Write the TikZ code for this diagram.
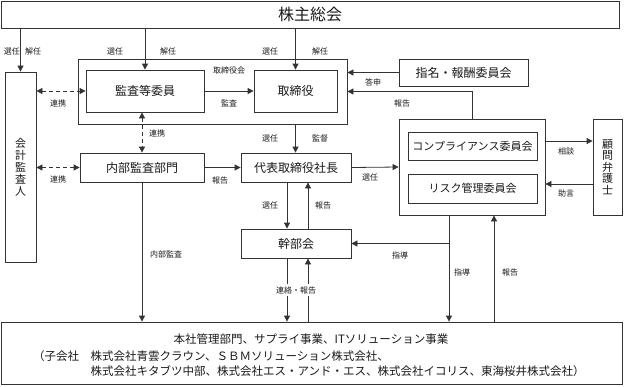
\documentclass[tikz,border=0pt]{standalone}
\usepackage{fontspec}
\setmainfont{Noto Sans CJK JP}
\usetikzlibrary{arrows.meta,calc}
\definecolor{ln}{HTML}{333333}
\definecolor{tx}{HTML}{1A1A1A}
\tikzset{
  box/.style={draw=ln, line width=0.8pt, fill=white, inner sep=0pt, text=tx, font=\fontsize{12pt}{14pt}\selectfont},
  arr/.style={draw=ln, line width=0.8pt, -{Triangle[length=6pt,width=6pt]}},
  plain/.style={draw=ln, line width=0.8pt},
  dash2/.style={draw=ln, line width=0.8pt, dash pattern=on 4pt off 3pt, {Triangle[length=6pt,width=6pt]}-{Triangle[length=6pt,width=6pt]}},
  lbl/.style={text=tx, inner sep=1pt, font=\fontsize{8pt}{9pt}\selectfont},
}
\begin{document}
\begin{tikzpicture}[x=1pt,y=-1pt]
\useasboundingbox (0,0) rectangle (624,386);
% boxes
\node[box, minimum width=618pt, minimum height=27pt, font=\fontsize{16pt}{18pt}\selectfont] (kabu) at (310,14.5) {株主総会};
\node[box, minimum width=269pt, minimum height=65pt] (bod) at (212.5,91.5) {};
\node[lbl] (bodlbl) at (229,70) {取締役会};
\node[box, minimum width=118pt, minimum height=42pt] (kansa) at (145,91) {監査等委員};
\node[box, minimum width=83pt, minimum height=42pt] (tori) at (295.5,91) {取締役};
\node[box, minimum width=31pt, minimum height=190pt, align=center, font=\fontsize{11pt}{12pt}\selectfont] (kaikei) at (20.5,167) {会\\計\\監\\査\\人};
\node[box, minimum width=129pt, minimum height=27pt] (shimei) at (463.5,72.5) {指名・報酬委員会};
\node[box, minimum width=146pt, minimum height=96pt] (comp) at (472,167) {};
\node[box, minimum width=129pt, minimum height=28pt, font=\fontsize{11pt}{13pt}\selectfont] (compl) at (472.5,146) {コンプライアンス委員会};
\node[box, minimum width=129pt, minimum height=29pt, font=\fontsize{11pt}{13pt}\selectfont] (risk) at (472.5,188.5) {リスク管理委員会};
\node[box, minimum width=29pt, minimum height=96pt, align=center, font=\fontsize{11pt}{11.5pt}\selectfont] (komon) at (607.5,167) {顧\\問\\弁\\護\\士};
\node[box, minimum width=124pt, minimum height=29pt] (naibu) at (142,167.5) {内部監査部門};
\node[box, minimum width=110pt, minimum height=29pt] (daihyo) at (296,167.5) {代表取締役社長};
\node[box, minimum width=110pt, minimum height=29pt] (kanbu) at (296,243.5) {幹部会};
\node[box, minimum width=621pt, minimum height=62pt] (hon) at (311.5,353) {};
\node[text=tx, inner sep=0pt, font=\fontsize{11.5pt}{13pt}\selectfont] (hon1) at (311,339) {本社管理部門、サプライ事業、ITソリューション事業};
\node[text=tx, inner sep=0pt, anchor=west, font=\fontsize{11.5pt}{13pt}\selectfont] (hon2) at (33,356) {（子会社　株式会社青雲クラウン、ＳＢＭソリューション株式会社、};
\node[text=tx, inner sep=0pt, anchor=west, font=\fontsize{11.5pt}{13pt}\selectfont] (hon3) at (90.5,371) {株式会社キタブツ中部、株式会社エス・アンド・エス、株式会社イコリス、東海桜井株式会社）};
% connectors from shareholders
\draw[arr] (kabu.south -| kaikei.north) -- (kaikei.north);
\draw[arr] (kabu.south -| kansa.north) -- (kansa.north);
\draw[arr] (kabu.south -| tori.north) -- (tori.north);
\node[lbl] at (12,51) {選任};
\node[lbl] at (33,51) {解任};
\node[lbl] at (115,51) {選任};
\node[lbl] at (168,51) {解任};
\node[lbl] at (270,51) {選任};
\node[lbl] at (320,51) {解任};
% board
\draw[arr] (kansa.east) -- (tori.west);
\node[lbl] at (229,103) {監査};
\draw[dash2] (kansa.west -| kaikei.east) -- (kansa.west);
\node[lbl] at (58,103) {連携};
\draw[dash2] (naibu.north |- kansa.south) -- (naibu.north);
\node[lbl] at (157,133) {連携};
\draw[dash2] (naibu.west -| kaikei.east) -- (naibu.west);
\node[lbl] at (58,179) {連携};
\draw[arr] (shimei.west) -- (shimei.west -| bod.east);
\node[lbl] at (373,82) {答申};
\draw[arr] (comp.north) |- (bod.east);
\node[lbl] at (402,103) {報告};
\draw[arr] (bod.south -| tori.south) -- (tori.south |- daihyo.north);
\node[lbl] at (270,138) {選任};
\node[lbl] at (320,138) {監督};
\draw[arr] (naibu.east) -- (daihyo.west);
\node[lbl] at (220,180) {報告};
\draw[arr] (daihyo.east) -- (comp.west);
\node[lbl] at (370,177) {選任};
\draw[arr] ([yshift=26pt]comp.east) -- ([yshift=26pt]comp.east -| komon.west);
\node[lbl] at (566,151) {相談};
\draw[arr] ([yshift=-17pt]comp.east -| komon.west) -- ([yshift=-17pt]comp.east);
\node[lbl] at (566,193) {助言};
% executive
\draw[arr] ([xshift=-9pt]daihyo.south) -- ([xshift=-9pt]kanbu.north);
\node[lbl] at (270,205) {選任};
\draw[arr] ([xshift=12pt]kanbu.north) -- ([xshift=12pt]daihyo.south);
\node[lbl] at (323,205) {報告};
\draw[arr] ([xshift=-9pt]kanbu.south) -- ([xshift=-9pt]kanbu.south |- hon.north);
\draw[arr] ([xshift=12pt]kanbu.south |- hon.north) -- ([xshift=12pt]kanbu.south);
\node[lbl, fill=white, inner sep=2pt] at (296,290) {連絡・報告};
% compliance to bottom
\coordinate (cdown) at ([xshift=-23pt]comp.south);
\coordinate (cbr) at (cdown |- kanbu.east);
\draw[arr] (cdown) -- (cdown |- hon.north);
\draw[arr] (cbr) -- (kanbu.east);
\node[lbl] at (400,255) {指導};
\node[lbl] at (462,272) {指導};
\draw[arr] ([xshift=22pt]comp.south |- hon.north) -- ([xshift=22pt]comp.south);
\node[lbl] at (510,272) {報告};
% internal audit
\draw[arr] (naibu.south) -- (naibu.south |- hon.north);
\node[lbl] at (166,254) {内部監査};
\end{tikzpicture}
\end{document}
